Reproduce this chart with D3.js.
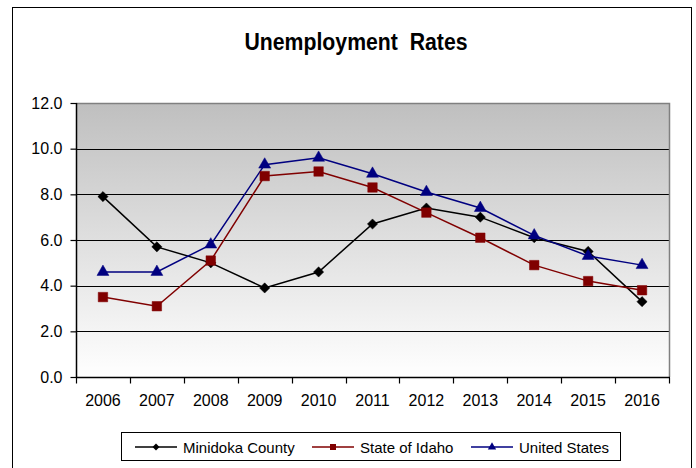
<!DOCTYPE html>
<html>
<head>
<meta charset="utf-8">
<script src="https://cdn.jsdelivr.net/npm/d3@7"></script>
<style>
  body { margin: 0; background: #fff; }
  text { font-family: Arial, "Liberation Sans", sans-serif; fill: #000; }
</style>
</head>
<body>
<script>
//data
var years = ["2006", "2007", "2008", "2009", "2010", "2011", "2012", "2013", "2014", "2015", "2016"];
var minidoka = [7.9, 5.7, 5.0, 3.9, 4.6, 6.7, 7.4, 7.0, 6.1, 5.5, 3.3];
var idaho = [3.5, 3.1, 5.1, 8.8, 9.0, 8.3, 7.2, 6.1, 4.9, 4.2, 3.8];
var usa = [4.6, 4.6, 5.8, 9.3, 9.6, 8.9, 8.1, 7.4, 6.2, 5.3, 4.9];
var yTicks = [0, 2, 4, 6, 8, 10, 12];
var seriesNames = ["Minidoka County", "State of Idaho", "United States"];

var w = 696, h = 468;
//plot area edges (don't use "top", it's window.top)
var pLeft = 76, pRight = 669, pTop = 103, pBottom = 377;

//square diamond (rotated square), d3.symbolDiamond is too tall
var diamond = {
    draw: function(context, size){
        var r = Math.sqrt(size / 2);
        context.moveTo(0, -r);
        context.lineTo(r, 0);
        context.lineTo(0, r);
        context.lineTo(-r, 0);
        context.closePath();
    }
};

var series = [
    {name: seriesNames[0], values: minidoka, color: "#000000", symbol: diamond, size: 52, lsize: 24},
    {name: seriesNames[1], values: idaho, color: "#800000", symbol: d3.symbolSquare, size: 90, lsize: 36},
    {name: seriesNames[2], values: usa, color: "#000080", symbol: d3.symbolTriangle, size: 62, lsize: 30}
];

var svg = d3.select("body").append("svg")
    .attr("width", w)
    .attr("height", h);

//gradient for plot background
var grad = svg.append("defs").append("linearGradient")
    .attr("id", "bg")
    .attr("x1", 0).attr("y1", 0).attr("x2", 0).attr("y2", 1);
grad.append("stop").attr("offset", "0%").attr("stop-color", "#bfbfbf");
grad.append("stop").attr("offset", "100%").attr("stop-color", "#ffffff");

//outer frame
svg.append("rect")
    .attr("x", 12.5).attr("y", 7.5)
    .attr("width", 679).attr("height", 480)
    .style("fill", "none")
    .style("stroke", "#000");

//title
svg.append("text")
    .attr("x", 356)
    .attr("y", 50)
    .attr("text-anchor", "middle")
    .attr("textLength", 223)
    .attr("lengthAdjust", "spacingAndGlyphs")
    .style("font-size", "23px")
    .style("font-weight", "bold")
    .style("white-space", "pre")
    .text("Unemployment  Rates");

var x = d3.scaleBand()
    .domain(years)
    .range([pLeft, pRight]);

var y = d3.scaleLinear()
    .domain([0, 12])
    .range([pBottom, pTop]);

//plot area
svg.append("rect")
    .attr("x", pLeft).attr("y", pTop)
    .attr("width", pRight - pLeft).attr("height", pBottom - pTop)
    .style("fill", "url(#bg)");

//gridlines
svg.selectAll(".grid")
    .data(yTicks.filter(function(d){ return d > 0 && d < 12; }))
    .enter()
    .append("line")
    .attr("class", "grid")
    .attr("x1", pLeft).attr("x2", pRight)
    .attr("y1", function(d){ return Math.round(y(d)) + 0.5; })
    .attr("y2", function(d){ return Math.round(y(d)) + 0.5; })
    .style("stroke", "#000")
    .style("stroke-width", 1.2);

//top and right border in gray
svg.append("path")
    .attr("d", "M" + pLeft + "," + (pTop + 0.5) + "H" + (pRight + 0.5) + "V" + pBottom)
    .style("fill", "none")
    .style("stroke", "#808080")
    .style("stroke-width", 1.5);

//y axis
var yAxis = d3.axisLeft(y)
    .tickValues(yTicks)
    .tickSize(6)
    .tickFormat(d3.format(".1f"));

var yG = svg.append("g")
    .attr("transform", "translate(" + (pLeft + 0.5) + ",0)")
    .call(yAxis);
yG.select(".domain").style("stroke", "#000").style("stroke-width", 1.5).attr("d", "M0," + pTop + "V" + pBottom);
yG.selectAll(".tick line").style("stroke", "#000").style("stroke-width", 1.2);
yG.selectAll(".tick text")
    .attr("x", -14)
    .style("font-size", "16px")
    .style("font-family", "Arial, 'Liberation Sans', sans-serif")
    .style("fill", "#000");

//x axis with ticks between categories
var xG = svg.append("g")
    .attr("transform", "translate(0," + (pBottom + 0.5) + ")");
xG.append("line")
    .attr("x1", pLeft).attr("x2", pRight + 1)
    .style("stroke", "#000")
    .style("stroke-width", 1.5);
var edges = years.map(function(d){ return x(d); }).concat([pRight]);
xG.selectAll(".xtick")
    .data(edges)
    .enter()
    .append("line")
    .attr("class", "xtick")
    .attr("x1", function(d){ return Math.round(d) + 0.5; })
    .attr("x2", function(d){ return Math.round(d) + 0.5; })
    .attr("y1", 0).attr("y2", 6)
    .style("stroke", "#000")
    .style("stroke-width", 1.2);
xG.selectAll(".xlabel")
    .data(years)
    .enter()
    .append("text")
    .attr("class", "xlabel")
    .attr("x", function(d){ return x(d) + x.bandwidth() / 2; })
    .attr("y", 28)
    .attr("text-anchor", "middle")
    .style("font-size", "16px")
    .text(function(d){ return d; });

//lines
var line = d3.line()
    .x(function(d, i){ return x(years[i]) + x.bandwidth() / 2; })
    .y(function(d){ return y(d); });

svg.selectAll(".series")
    .data(series)
    .enter()
    .append("path")
    .attr("class", "series")
    .attr("d", function(d){ return line(d.values); })
    .style("fill", "none")
    .style("stroke", function(d){ return d.color; })
    .style("stroke-width", 1.5);

//markers
series.forEach(function(s, k){
    svg.selectAll(".m" + k)
        .data(s.values)
        .enter()
        .append("path")
        .attr("class", "m" + k)
        .attr("transform", function(d, i){
            return "translate(" + (x(years[i]) + x.bandwidth() / 2) + "," + y(d) + ")";
        })
        .attr("d", d3.symbol().type(s.symbol).size(s.size))
        .style("fill", s.color)
        .style("stroke", s.color)
        .style("stroke-width", 0.5);
});

//legend
var legend = svg.append("g");
legend.append("rect")
    .attr("x", 121.5).attr("y", 432.5)
    .attr("width", 499).attr("height", 28)
    .style("fill", "#fff")
    .style("stroke", "#000");

var legendX = [135, 312, 471];
var entries = legend.selectAll(".entry")
    .data(series)
    .enter()
    .append("g")
    .attr("class", "entry")
    .attr("transform", function(d, i){ return "translate(" + legendX[i] + ",447)"; });
entries.append("line")
    .attr("x1", 0).attr("x2", 42)
    .style("stroke", function(d){ return d.color; })
    .style("stroke-width", 1.5);
entries.append("path")
    .attr("transform", "translate(21,0)")
    .attr("d", function(d){ return d3.symbol().type(d.symbol).size(d.lsize)(); })
    .style("fill", function(d){ return d.color; });
entries.append("text")
    .attr("x", 48)
    .attr("y", 5.5)
    .style("font-size", "15px")
    .text(function(d){ return d.name; });
</script>
</body>
</html>
